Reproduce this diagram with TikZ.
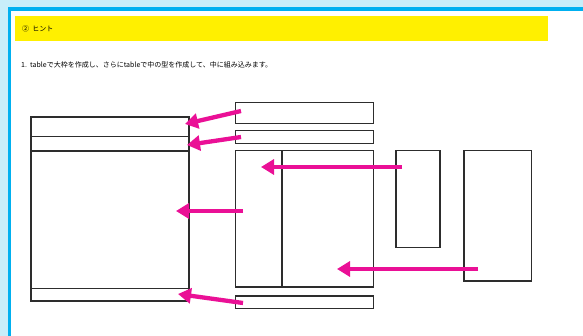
\documentclass[tikz,border=0pt]{standalone}
\usepackage{fontspec}
\newfontfamily\jpfont{Noto Sans CJK JP}
\usetikzlibrary{arrows.meta}
\definecolor{hbgblue}{RGB}{200, 238, 250}
\definecolor{hframe}{RGB}{0, 176, 240}
\definecolor{hyellow}{RGB}{255, 240, 0}
\definecolor{hpink}{RGB}{234, 16, 150}
\definecolor{hline}{RGB}{45, 45, 45}
\begin{document}
\begin{tikzpicture}[
    x=1pt, y=-1pt,
    cell/.style={rectangle, draw=hline, line width=1.3pt, fill=white,
                 inner sep=0pt, outer sep=0pt, anchor=north west},
    push/.style={-{Triangle[length=13pt, width=15pt]}, line width=4.3pt, color=hpink},
    txt/.style={font=\jpfont\fontsize{7}{8}\selectfont, anchor=west, inner sep=0pt}
  ]
    \useasboundingbox (0,0) rectangle (583,336);
    % page background and panel
    \fill[hbgblue] (0,0) rectangle (583,336);
    \draw[hframe, line width=3.6pt, fill=white] (9.3,9.3) rectangle (600,350);
    \fill[hyellow] (15,16) rectangle (548,41);
    \node[txt] (title) at (22,28.5) {② \ ヒント};
    \node[txt] (step)  at (21,65)   {1.\ \ tableで大枠を作成し、さらにtableで中の型を作成して、中に組み込みます。};

    % outer table
    \node[cell, minimum width=158pt, minimum height=19.5pt]  (rowA) at (31,117)   {};
    \node[cell, minimum width=158pt, minimum height=14.5pt]  (rowB) at (31,136.5) {};
    \node[cell, minimum width=158pt, minimum height=137.5pt] (rowC) at (31,151)   {};
    \node[cell, minimum width=158pt, minimum height=12.5pt]  (rowD) at (31,288.5) {};

    % parts
    \node[cell, minimum width=138pt, minimum height=21pt]    (partA) at (235.5,102.5) {};
    \node[cell, minimum width=138pt, minimum height=13pt]    (partB) at (235.5,130.5) {};
    \node[cell, minimum width=46.5pt, minimum height=136.5pt] (partL) at (235.5,150.5) {};
    \node[cell, minimum width=91.5pt, minimum height=136.5pt] (partR) at (282,150.5)   {};
    \node[cell, minimum width=138pt, minimum height=12.5pt]  (partD) at (235.5,296)   {};

    % inner tables
    \node[cell, minimum width=44pt, minimum height=97pt]     (innerL) at (396,150.5) {};
    \node[cell, minimum width=67.5pt, minimum height=130.5pt] (innerR) at (464,150.5) {};

    % arrow ends
    \coordinate (tA) at (241,111);   \coordinate (hA) at (185,124);
    \coordinate (tB) at (241,137);   \coordinate (hB) at (187,145);
    \coordinate (tC) at (243,211);   \coordinate (hC) at (176,211);
    \coordinate (tD) at (243,303);   \coordinate (hD) at (178,294);
    \coordinate (tL) at (402,167);   \coordinate (hL) at (261,167);
    \coordinate (tR) at (478,269);   \coordinate (hR) at (337,269);

    \draw[push] (tA) -- (hA);
    \draw[push] (tB) -- (hB);
    \draw[push] (tC) -- (hC);
    \draw[push] (tD) -- (hD);
    \draw[push] (tL) -- (hL);
    \draw[push] (tR) -- (hR);
  \end{tikzpicture}
\end{document}
